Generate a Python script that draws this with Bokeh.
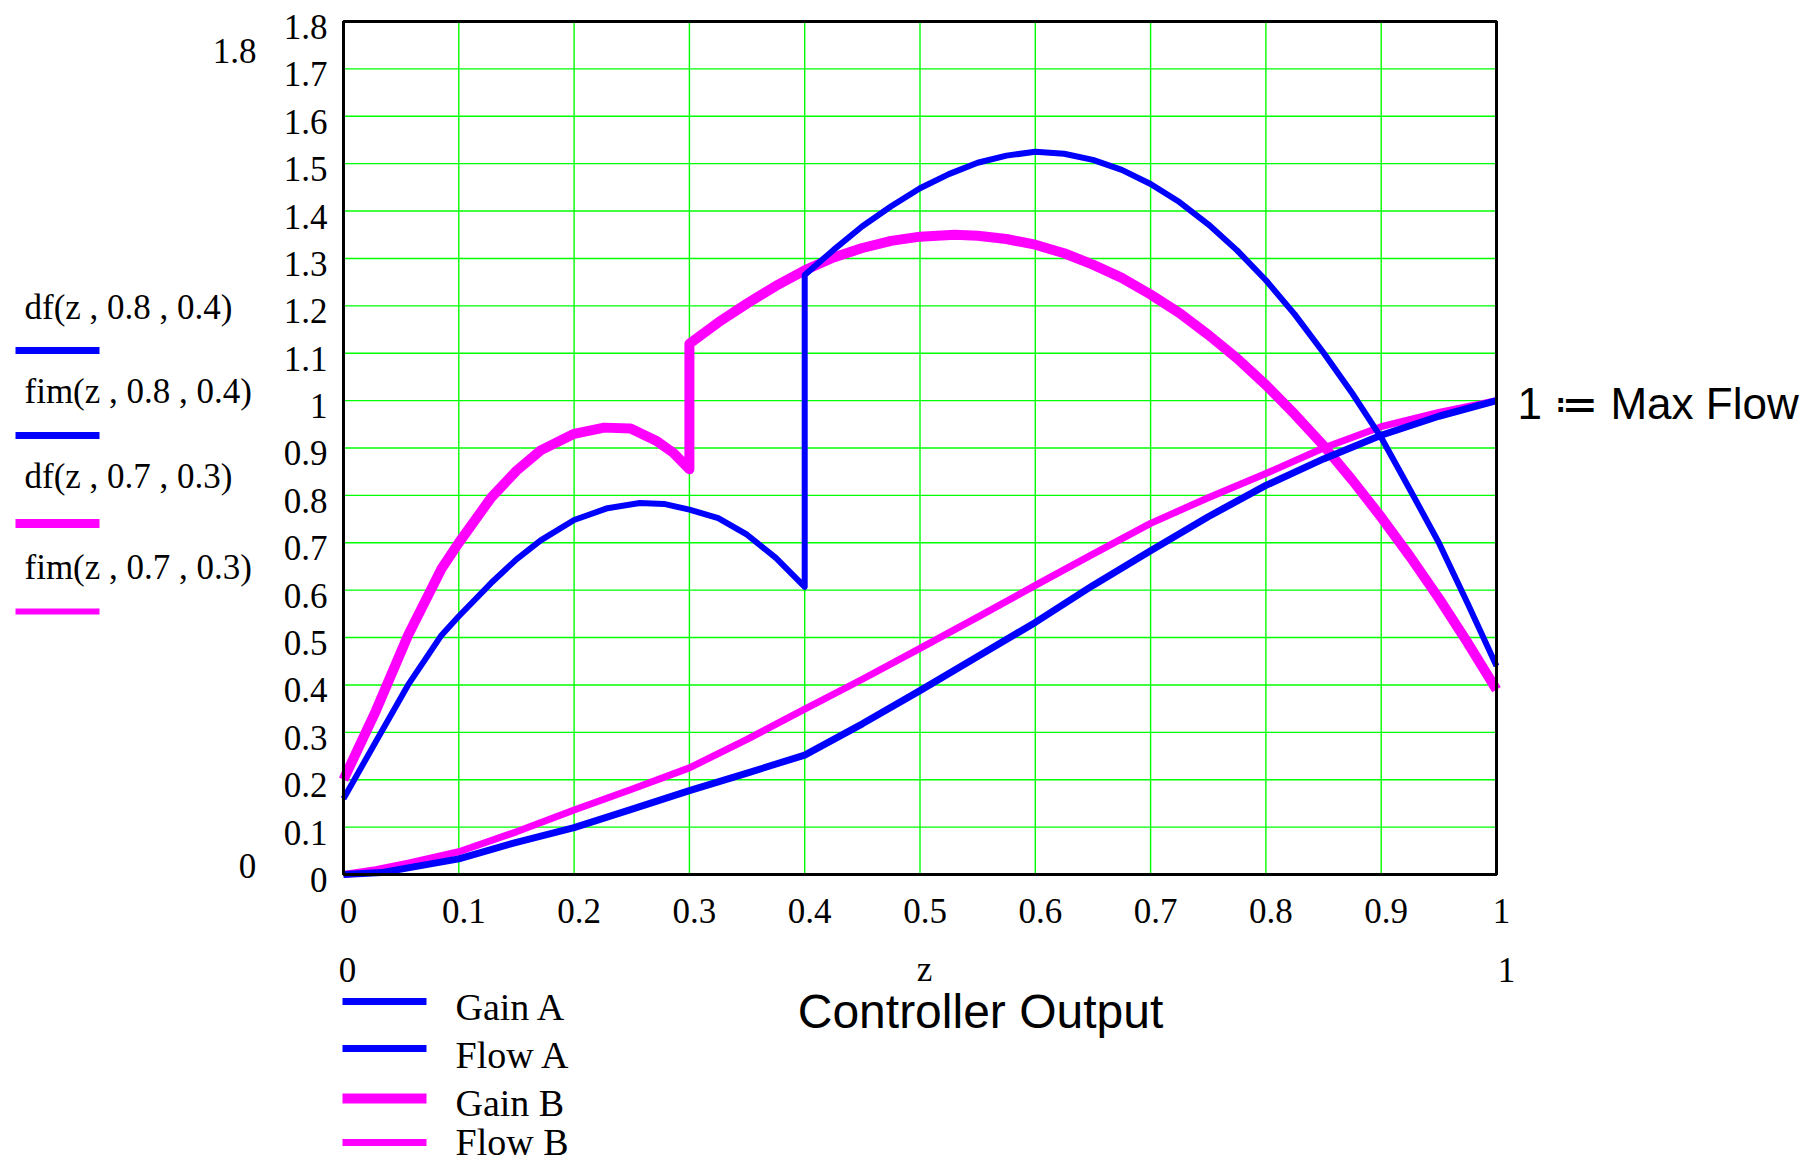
from bokeh.plotting import figure
from bokeh.models import Label, BoxAnnotation, Range1d
from bokeh.core.properties import value
from bokeh.embed import file_html
from bokeh.resources import INLINE

# ---------------- data ----------------
z_gain_a = [0.0, 0.028, 0.056, 0.085, 0.1, 0.128, 0.15, 0.171, 0.2, 0.229, 0.257, 0.278,
            0.3, 0.325, 0.35, 0.375, 0.4, 0.4, 0.425, 0.45, 0.475, 0.5, 0.525, 0.55, 0.575,
            0.6, 0.625, 0.65, 0.675, 0.7, 0.725, 0.75, 0.775, 0.8, 0.825, 0.85, 0.875, 0.9,
            0.925, 0.95, 0.975, 1.0]
gain_a = [0.16, 0.28, 0.40, 0.505, 0.545, 0.615, 0.665, 0.705, 0.748, 0.773, 0.784, 0.782,
          0.77, 0.752, 0.717, 0.668, 0.607, 1.265, 1.318, 1.368, 1.41, 1.448, 1.478, 1.502, 1.517,
          1.525, 1.521, 1.508, 1.487, 1.457, 1.419, 1.372, 1.317, 1.254, 1.182, 1.101, 1.015, 0.922,
          0.812, 0.70, 0.572, 0.44]

z_flow_a = [0.0, 0.033, 0.056, 0.1, 0.15, 0.2, 0.249, 0.3, 0.35, 0.4, 0.45, 0.5, 0.55, 0.6,
            0.65, 0.7, 0.75, 0.8, 0.85, 0.9, 0.95, 1.0]
flow_a = [0.0, 0.004, 0.014, 0.033, 0.068, 0.099, 0.137, 0.177, 0.214, 0.252, 0.318, 0.388,
          0.46, 0.532, 0.61, 0.683, 0.755, 0.821, 0.877, 0.927, 0.967, 1.0]

z_gain_b = [0.0, 0.028, 0.056, 0.085, 0.1, 0.128, 0.15, 0.171, 0.2, 0.226, 0.249, 0.272,
            0.286, 0.3, 0.3, 0.325, 0.35, 0.375, 0.4, 0.425, 0.45, 0.475, 0.5, 0.53, 0.55,
            0.575, 0.6, 0.625, 0.65, 0.675, 0.7, 0.725, 0.75, 0.775, 0.8, 0.825, 0.85, 0.875,
            0.9, 0.925, 0.95, 0.975, 1.0]
gain_b = [0.20, 0.345, 0.505, 0.645, 0.70, 0.795, 0.852, 0.895, 0.93, 0.943, 0.941, 0.914,
          0.89, 0.855, 1.12, 1.165, 1.205, 1.242, 1.275, 1.302, 1.322, 1.337, 1.346, 1.35, 1.348,
          1.341, 1.329, 1.311, 1.287, 1.259, 1.224, 1.185, 1.139, 1.089, 1.033, 0.971, 0.905, 0.832,
          0.754, 0.671, 0.583, 0.489, 0.39]

z_flow_b = [0.0, 0.028, 0.056, 0.1, 0.15, 0.2, 0.25, 0.3, 0.35, 0.4, 0.45, 0.5, 0.55, 0.6,
            0.65, 0.7, 0.75, 0.8, 0.85, 0.9, 0.95, 1.0]
flow_b = [0.0, 0.01, 0.024, 0.048, 0.09, 0.136, 0.18, 0.225, 0.285, 0.349, 0.412, 0.477,
          0.543, 0.61, 0.676, 0.741, 0.795, 0.846, 0.90, 0.945, 0.975, 1.0]

x_ticks = [0, 0.1, 0.2, 0.3, 0.4, 0.5, 0.6, 0.7, 0.8, 0.9, 1]
x_tick_labels = ["0", "0.1", "0.2", "0.3", "0.4", "0.5", "0.6", "0.7", "0.8", "0.9", "1"]
y_ticks = [0, 0.1, 0.2, 0.3, 0.4, 0.5, 0.6, 0.7, 0.8, 0.9, 1, 1.1, 1.2, 1.3, 1.4, 1.5, 1.6, 1.7, 1.8]
y_tick_labels = ["0", "0.1", "0.2", "0.3", "0.4", "0.5", "0.6", "0.7", "0.8", "0.9", "1",
                 "1.1", "1.2", "1.3", "1.4", "1.5", "1.6", "1.7", "1.8"]

left_legend_labels = ["df(z , 0.8 , 0.4)", "fim(z , 0.8 , 0.4)", "df(z , 0.7 , 0.3)", "fim(z , 0.7 , 0.3)"]
bottom_legend_labels = ["Gain A", "Flow A", "Gain B", "Flow B"]

BLUE = "#0000ff"
MAGENTA = "#ff00ff"
GRID = "#00ff00"
SERIF = "Liberation Serif"
SANS = "Liberation Sans"

# ---------------- layout geometry (page pixels) ----------------
W, H = 1804, 1163
FX0, FX1 = 343, 1496      # x = 0 and x = 1 on the page
FY0, FY1 = 21, 874        # y = 1.8 and y = 0 on the page
XMIN, XMAX, YMIN, YMAX = 0.0, 1.0, 0.0, 1.8
BASE_SHIFT = 0.33         # empirical baseline correction (fraction of font size)


def dx(px):
    return XMIN + (px - FX0) / (FX1 - FX0) * (XMAX - XMIN)


def dy(py):
    return YMIN + (FY1 - py) / (FY1 - FY0) * (YMAX - YMIN)


# the frame fills the whole canvas; the plot box is drawn inside it
p = figure(width=W, height=H,
           x_range=Range1d(dx(0), dx(W)), y_range=Range1d(dy(H), dy(0)),
           x_axis_type=None, y_axis_type=None,
           output_backend="svg", toolbar_location=None, min_border=0)
p.outline_line_color = None
p.background_fill_color = "white"
p.border_fill_color = "white"

# ---------------- grid ----------------
p.segment(x0=x_ticks, y0=[YMIN] * len(x_ticks), x1=x_ticks, y1=[YMAX] * len(x_ticks),
          line_color=GRID, line_width=1.4)
p.segment(x0=[XMIN] * len(y_ticks), y0=y_ticks, x1=[XMAX] * len(y_ticks), y1=y_ticks,
          line_color=GRID, line_width=1.4)

# ---------------- curves ----------------
p.line(z_flow_b, flow_b, line_color=MAGENTA, line_width=7, line_join="round")
p.line(z_gain_b, gain_b, line_color=MAGENTA, line_width=10, line_join="round")
p.line(z_flow_a, flow_a, line_color=BLUE, line_width=7, line_join="round")
p.line(z_gain_a, gain_a, line_color=BLUE, line_width=6, line_join="round")

# plot box
p.quad(left=[XMIN], right=[XMAX], bottom=[YMIN], top=[YMAX],
       fill_color=None, line_color="black", line_width=3)

# ---------------- tick labels ----------------
TICK_FS = 35
p.text(x=[dx(327)] * len(y_ticks), y=y_ticks, text=y_tick_labels,
       text_font=value(SERIF), text_font_size=value(f"{TICK_FS}px"), text_color="black",
       text_align="right", text_baseline="alphabetic",
       y_offset=17 - BASE_SHIFT * TICK_FS)
p.text(x=x_ticks, y=[dy(922 - BASE_SHIFT * TICK_FS)] * len(x_ticks), text=x_tick_labels,
       text_font=value(SERIF), text_font_size=value(f"{TICK_FS}px"), text_color="black",
       text_align="center", text_baseline="alphabetic", x_offset=5)


def add_label(text, px, py, fs, font=SERIF, align="center"):
    p.add_layout(Label(x=dx(px), y=dy(py - BASE_SHIFT * fs), text=text, text_font=font,
                       text_font_size=f"{fs}px", text_align=align,
                       text_baseline="alphabetic", text_color="black"))


def add_swatch(px0, px1, pyc, h, color):
    p.add_layout(BoxAnnotation(left=dx(px0), right=dx(px1),
                               bottom=dy(pyc + h / 2), top=dy(pyc - h / 2),
                               fill_color=color, fill_alpha=1.0,
                               line_color=None))


# Mathcad limit labels
add_label("1.8", 234, 62, 35)
add_label("0", 247, 877, 35)
add_label("0", 347, 981, 35)
add_label("z", 924, 981, 35)
add_label("1", 1506, 981, 35)

add_label("Controller Output", 980, 1027, 48, font=SANS)
add_label("1 \u2254 Max Flow", 1517, 418, 44, font=SANS, align="left")

# left legend (Mathcad trace names)
left_text_y = [319, 403, 488, 579]
left_line_y = [350, 435, 523, 611]
colors = [BLUE, BLUE, MAGENTA, MAGENTA]
left_heights = [7, 7, 9, 6]
for t, ty, ly, c, h in zip(left_legend_labels, left_text_y, left_line_y, colors, left_heights):
    add_label(t, 24, ty, 35, align="left")
    add_swatch(15, 99, ly, h, c)

# bottom legend
bot_text_y = [1019, 1067, 1115, 1154]
bot_line_y = [1001, 1048, 1098, 1142]
bot_heights = [7, 7, 10, 7]
for t, ty, ly, c, h in zip(bottom_legend_labels, bot_text_y, bot_line_y, colors, bot_heights):
    add_label(t, 455, ty, 38, align="left")
    add_swatch(342, 426, ly, h, c)

open("out.html", "w").write(file_html(p, INLINE))
